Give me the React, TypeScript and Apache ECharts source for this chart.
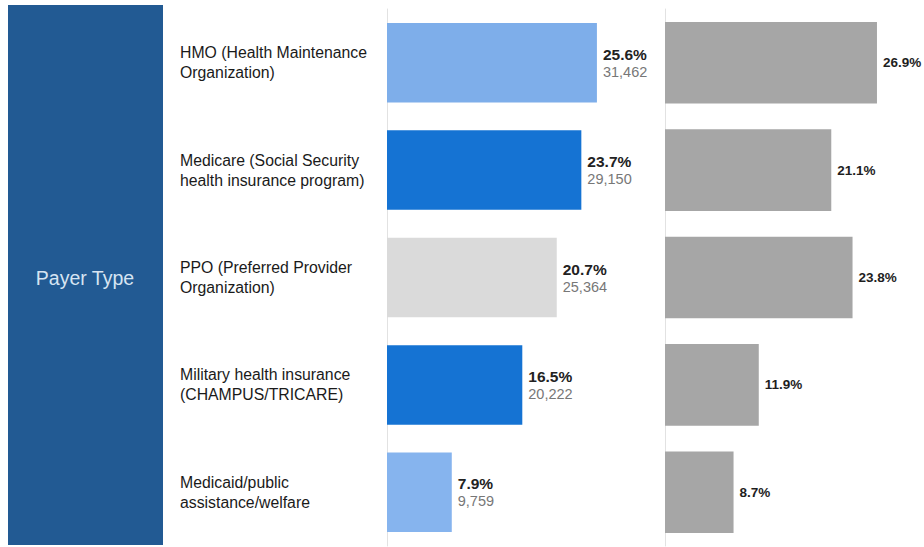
import React, { useEffect, useRef } from "react";
import * as echarts from "echarts";

const categories = [
  "HMO (Health Maintenance\nOrganization)",
  "Medicare (Social Security\nhealth insurance program)",
  "PPO (Preferred Provider\nOrganization)",
  "Military health insurance\n(CHAMPUS/TRICARE)",
  "Medicaid/public\nassistance/welfare",
];
const sharePct = [25.6, 23.7, 20.7, 16.5, 7.9];
const counts = ["31,462", "29,150", "25,364", "20,222", "9,759"];
const benchmarkPct = [26.9, 21.1, 23.8, 11.9, 8.7];
const barColors = ["#7eaeea", "#1573d3", "#dadada", "#1573d3", "#86b4ee"];
const headerText = "Payer Type";

export default function App() {
  const ref = useRef<HTMLDivElement>(null);
  useEffect(() => {
    document.body.style.margin = "0";
    const chart = echarts.init(ref.current!, undefined, { renderer: "svg" });
    const font = "'Liberation Sans', Arial, sans-serif";
    chart.setOption({
      animation: false,
      textStyle: { fontFamily: font },
      graphic: [
        {
          type: "rect",
          shape: { x: 8, y: 5, width: 155, height: 540 },
          style: { fill: "#225a93" },
          z: 0,
        },
        {
          type: "text",
          x: 85,
          y: 278,
          style: {
            text: headerText,
            fill: "#d6e4f2",
            font: `19.5px ${font}`,
            align: "center",
            verticalAlign: "middle",
          },
        },
      ],
      grid: [
        { left: 387, width: 246, top: 9, bottom: 1 },
        { left: 665, width: 236.4, top: 9, bottom: 1 },
      ],
      xAxis: [
        { type: "value", gridIndex: 0, min: 0, max: 30, show: false },
        { type: "value", gridIndex: 1, min: 0, max: 30, show: false },
      ],
      yAxis: [
        {
          type: "category",
          gridIndex: 0,
          data: categories,
          inverse: true,
          axisLine: { show: true, lineStyle: { color: "#e2e2e2", width: 1 } },
          axisTick: { show: false },
          axisLabel: {
            align: "left",
            margin: 207,
            color: "#1a1a1a",
            fontSize: 15.8,
            lineHeight: 20,
            fontFamily: font,
            padding: [0, 0, 4, 0],
          },
        },
        {
          type: "category",
          gridIndex: 1,
          data: categories,
          inverse: true,
          axisLine: { show: true, lineStyle: { color: "#e2e2e2", width: 1 } },
          axisTick: { show: false },
          axisLabel: { show: false },
        },
      ],
      series: [
        {
          type: "bar",
          xAxisIndex: 0,
          yAxisIndex: 0,
          barCategoryGap: "26%",
          data: sharePct.map((v, i) => ({ value: v, itemStyle: { color: barColors[i] } })),
          label: {
            show: true,
            position: "right",
            distance: 6,
            formatter: (p: any) => `{a|${p.value.toFixed(1)}%}\n{b|${counts[p.dataIndex]}}`,
            rich: {
              a: { fontSize: 15.5, fontWeight: "bold", color: "#222", lineHeight: 18, fontFamily: font },
              b: { fontSize: 14.5, color: "#777", lineHeight: 17, fontFamily: font },
            },
          },
        },
        {
          type: "bar",
          xAxisIndex: 1,
          yAxisIndex: 1,
          barCategoryGap: "24%",
          data: benchmarkPct,
          itemStyle: { color: "#a6a6a6" },
          label: {
            show: true,
            position: "right",
            distance: 6,
            formatter: (p: any) => `${p.value.toFixed(1)}%`,
            color: "#1e1e1e",
            fontSize: 13.5,
            fontWeight: "bold",
            fontFamily: font,
          },
        },
      ],
    });
    return () => chart.dispose();
  }, []);
  return (
    <div
      ref={ref}
      style={{ position: "absolute", left: 0, top: 0, width: 924, height: 547, background: "#fff" }}
    />
  );
}
